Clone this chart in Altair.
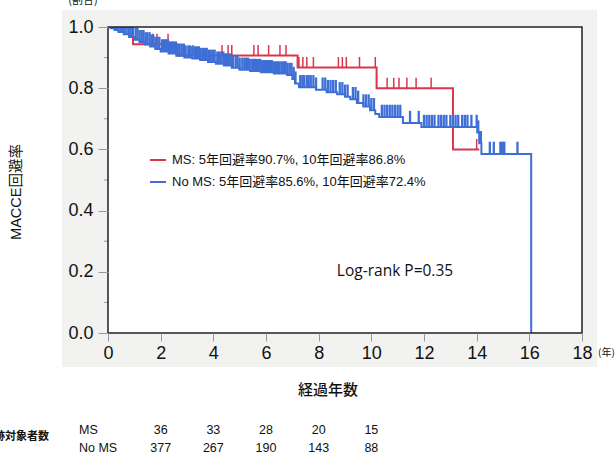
import altair as alt
import pandas as pd

# ---------------- data ----------------
# MS group: step times and survival after each step
ms_t = [0.0, 0.95, 2.6, 7.2, 10.2, 13.1, 14.1]
ms_s = [1.0, 0.944, 0.907, 0.868, 0.80, 0.60, 0.60]
ms_cens = [1.7, 1.86, 2.28, 3.23, 4.33, 4.56, 4.7, 5.54, 5.7, 6.1, 6.53, 6.76,
           7.25, 7.4, 7.55, 7.8, 8.75, 8.9, 9.05, 9.55, 10.15, 10.6, 10.85,
           11.05, 11.35, 11.7, 12.27, 14.0]

# No MS group
nms_t = [0.0, 0.1, 0.25, 0.4, 0.6, 0.8, 1.0, 1.2, 1.4, 1.6, 1.8, 2.0, 2.3, 2.6,
         2.9, 3.2, 3.5, 3.8, 4.1, 4.4, 4.7, 5.0, 5.4, 5.8, 6.3, 6.8, 7.0, 7.1,
         7.25, 7.9, 8.3, 8.7, 9.0, 9.2, 9.45, 9.7, 9.95, 10.15, 10.3, 11.2,
         11.9, 14.02, 14.1, 14.18, 16.07]
nms_s = [1.0, 0.996, 0.99, 0.984, 0.976, 0.967, 0.958, 0.95, 0.943, 0.936,
         0.928, 0.92, 0.913, 0.906, 0.9, 0.897, 0.892, 0.886, 0.88, 0.874,
         0.867, 0.86, 0.856, 0.852, 0.848, 0.843, 0.83, 0.815, 0.803, 0.795,
         0.787, 0.78, 0.772, 0.764, 0.752, 0.74, 0.728, 0.716, 0.706, 0.686,
         0.673, 0.655, 0.62, 0.585, 0.0]
nms_cens = [0.05, 0.12, 0.2, 0.27, 0.33, 0.4, 0.48, 0.55, 0.62, 0.7, 0.78, 0.85,
            0.92, 1.05, 1.12, 1.2, 1.28, 1.35, 1.43, 1.5, 1.58, 1.65, 1.72, 1.8,
            1.88, 1.95, 2.05, 2.12, 2.2, 2.28, 2.35, 2.43, 2.5, 2.58, 2.65, 2.72,
            2.8, 2.88, 2.95, 3.05, 3.12, 3.2, 3.3, 3.38, 3.45, 3.52, 3.6, 3.68,
            3.75, 3.83, 3.9, 3.98, 4.05, 4.15, 4.22, 4.3, 4.38, 4.45, 4.52, 4.6,
            4.68, 4.75, 4.85, 4.92, 5.0, 5.1, 5.18, 5.25, 5.32, 5.4, 5.48, 5.55,
            5.62, 5.7, 5.78, 5.85, 5.92, 6.0, 6.08, 6.15, 6.22, 6.3, 6.38, 6.45,
            6.52, 6.6, 6.68, 6.75, 6.82, 6.9, 6.97, 7.05, 7.12,
            7.3, 7.38, 7.45, 7.55, 7.62, 7.7, 7.8, 7.9, 8.15, 8.25, 8.35, 8.45,
            8.55, 8.65, 8.8, 8.9, 9.0, 9.1, 9.3, 9.4, 9.5, 9.7, 9.8, 9.9, 10.0,
            10.1, 10.4, 10.5, 10.6, 10.7, 10.8, 10.9, 11.0, 11.1, 11.47, 11.8,
            12.0, 12.1, 12.2, 12.3, 12.4, 12.55, 12.65, 12.75, 12.85, 13.0, 13.1,
            13.2, 13.3, 13.45, 13.55, 13.65, 13.8, 14.0, 14.06, 14.12, 14.16,
            14.5, 14.65, 14.9, 14.95, 15.0, 15.05, 15.55]

years = [2, 4, 6, 8, 10]
ms_n = [36, 33, 28, 20, 15]
nms_n = [377, 267, 190, 143, 88]

x_ticks = [0, 2, 4, 6, 8, 10, 12, 14, 16, 18]
y_ticks = [0.0, 0.2, 0.4, 0.6, 0.8, 1.0]
y_minor = [0.1, 0.3, 0.5, 0.7, 0.9]

legend_ms = "MS: 5年回避率90.7%, 10年回避率86.8%"
legend_nms = "No MS: 5年回避率85.6%, 10年回避率72.4%"

RED = "#D9364C"
BLUE = "#3D6FD6"
LATIN = "Liberation Sans"
CJK = "Noto Sans CJK JP"
MIX = "Liberation Sans, Noto Sans CJK JP"

W, H = 474, 306


def surv(ts, ss, t):
    v = ss[0]
    for a, b in zip(ts, ss):
        if a <= t:
            v = b
    return v


ms_df = pd.DataFrame({"t": ms_t, "s": ms_s})
nms_df = pd.DataFrame({"t": nms_t, "s": nms_s})
ms_c = pd.DataFrame({"t": ms_cens})
ms_c["s"] = [surv(ms_t, ms_s, t) for t in ms_cens]
ms_c["s2"] = ms_c["s"] + 0.034
nms_c = pd.DataFrame({"t": nms_cens})
nms_c["s"] = [surv(nms_t, nms_s, t) for t in nms_cens]
nms_c["s2"] = nms_c["s"] + 0.04

xs = alt.Scale(domain=[0, 18], nice=False, zero=False)
ys = alt.Scale(domain=[0, 1], nice=False, zero=False)
xaxis = alt.Axis(values=x_ticks, tickSize=8, tickColor="#999999", tickWidth=1,
                 labelFontSize=18, labelFont=LATIN, labelColor="#111111",
                 labelPadding=3, domain=False, grid=False, title=None,
                 labelFlush=False, zindex=2)
yaxis = alt.Axis(values=y_ticks, format=".1f", tickSize=10, tickColor="#999999",
                 tickWidth=1, labelFontSize=18, labelFont=LATIN,
                 labelColor="#111111", labelPadding=5, domain=False, grid=False,
                 title=None, zindex=2)
X = alt.X("t:Q", scale=xs, axis=xaxis)
Y = alt.Y("s:Q", scale=ys, axis=yaxis)

one = pd.DataFrame({"a": [0]})


def label(txt, x, y, **kw):
    return alt.Chart(pd.DataFrame({"txt": [txt]})).mark_text(**kw).encode(
        x=alt.value(x), y=alt.value(y), text="txt:N")


gray = alt.Chart(one).mark_rect(fill="#F2F2F0").encode(
    x=alt.value(-46), x2=alt.value(489), y=alt.value(-17), y2=alt.value(340))
white = alt.Chart(one).mark_rect(fill="white").encode(
    x=alt.value(0), x2=alt.value(W), y=alt.value(0), y2=alt.value(H))

minor = alt.Chart(pd.DataFrame({"s": y_minor})).mark_rule(
    color="#999999", strokeWidth=1).encode(
    x=alt.value(-4), x2=alt.value(0), y=Y)

ms_line = alt.Chart(ms_df).mark_line(
    color=RED, strokeWidth=2, interpolate="step-after", clip=True).encode(x=X, y=Y)
ms_tk = alt.Chart(ms_c).mark_rule(color=RED, strokeWidth=1.5, clip=True).encode(
    x=X, y=Y, y2="s2:Q")
nms_line = alt.Chart(nms_df).mark_line(
    color=BLUE, strokeWidth=2, interpolate="step-after", clip=True).encode(x=X, y=Y)
nms_tk = alt.Chart(nms_c).mark_rule(color=BLUE, strokeWidth=2.3, clip=True).encode(
    x=X, y=Y, y2="s2:Q")

frame = alt.Chart(one).mark_rect(fill=None, stroke="#222222", strokeWidth=1.5).encode(
    x=alt.value(0), x2=alt.value(W), y=alt.value(0), y2=alt.value(H))

# legend
leg_red = alt.Chart(one).mark_rule(strokeWidth=2, color=RED).encode(
    x=alt.value(42), x2=alt.value(58), y=alt.value(133))
leg_blue = alt.Chart(one).mark_rule(strokeWidth=2, color=BLUE).encode(
    x=alt.value(42), x2=alt.value(58), y=alt.value(155))
leg_t1 = label(legend_ms, 64, 133, align="left", baseline="middle", font=MIX,
               fontSize=13, color="#111111")
leg_t2 = label(legend_nms, 64, 155, align="left", baseline="middle", font=MIX,
               fontSize=13, color="#111111")

logrank = label("Log-rank P=0.35", 287, 244, align="center", baseline="middle",
                font="Open Sans", fontSize=15.5, color="#111111")

# axis titles and units
xtitle = label("経過年数", 220, 363, align="center", baseline="middle", font=CJK,
               fontSize=15, fontWeight=500, color="#111111")
ytitle = label("MACCE回避率", -91, 165, align="center", baseline="middle", font=MIX,
               fontSize=14.5, angle=270, color="#111111")
yunit = label("(割合)", -25, -21, align="center", baseline="bottom", font=CJK,
              fontSize=11, color="#111111")
xunit = label("(年)", 490, 326, align="left", baseline="middle", font=CJK,
              fontSize=10, color="#111111")

# number at risk table
tab_lbl = label("追跡対象者数", -59, 410, align="right", baseline="middle", font=CJK,
                fontSize=11, fontWeight="bold", color="#111111")
row1 = label("MS", -29, 403, align="left", baseline="middle", font=LATIN,
             fontSize=12.5, color="#111111")
row2 = label("No MS", -29, 421, align="left", baseline="middle", font=LATIN,
             fontSize=12.5, color="#111111")
risk1 = alt.Chart(pd.DataFrame({"t": years, "n": [str(v) for v in ms_n]})).mark_text(
    align="center", baseline="middle", font=LATIN, fontSize=12.5, color="#111111").encode(
    x=X, y=alt.value(403), text="n:N")
risk2 = alt.Chart(pd.DataFrame({"t": years, "n": [str(v) for v in nms_n]})).mark_text(
    align="center", baseline="middle", font=LATIN, fontSize=12.5, color="#111111").encode(
    x=X, y=alt.value(421), text="n:N")

chart = alt.layer(
    gray, white, minor, ms_line, ms_tk, nms_line, nms_tk, frame,
    leg_red, leg_blue, leg_t1, leg_t2, logrank, xtitle, ytitle, yunit, xunit,
    tab_lbl, row1, row2, risk1, risk2
).properties(
    width=W, height=H,
    padding={"left": 108, "top": 27, "right": 34, "bottom": 140},
    autosize=alt.AutoSizeParams(type="none"),
    background="white"
).configure_view(stroke=None)

chart.save("out.html", embed_options={"renderer": "svg", "actions": False})
